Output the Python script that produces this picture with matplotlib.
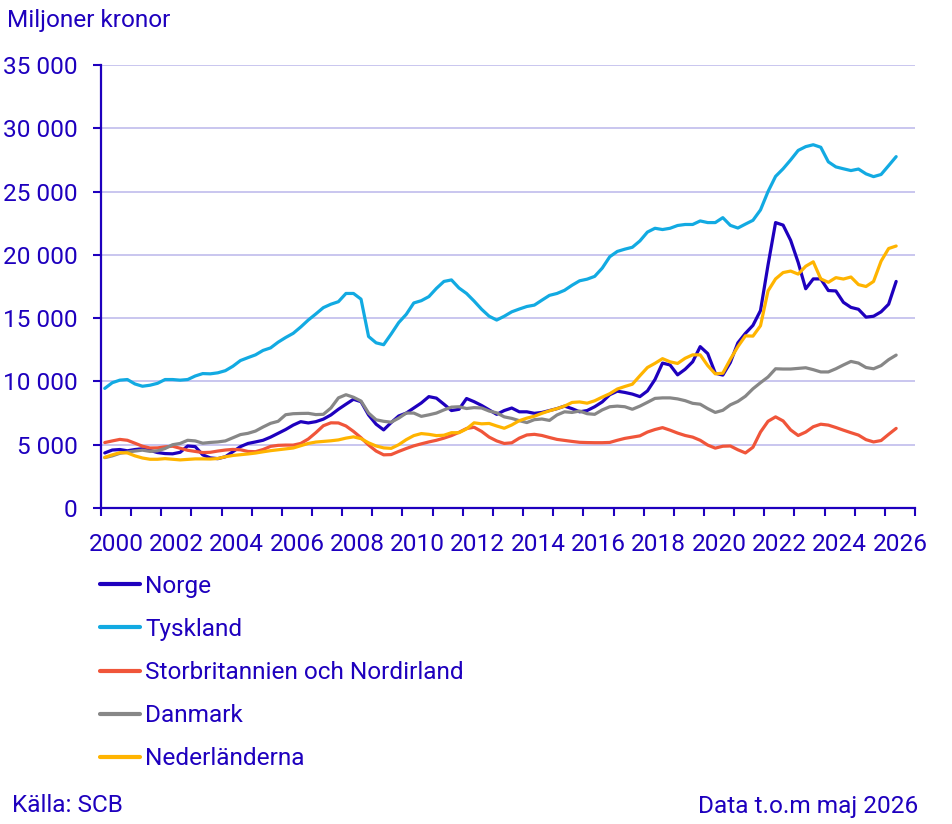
import numpy as np
import pandas as pd
import matplotlib
matplotlib.use("Agg")
import matplotlib.pyplot as plt
from matplotlib.ticker import FuncFormatter

plt.rcParams['font.family'] = ['Roboto', 'DejaVu Sans']

# ---- data (miljoner kronor), quarterly readings Feb/May/Aug/Nov, Feb 2000 - May 2026 ----
dates = pd.date_range('2000-02-01', '2026-05-01', freq='3MS')

norge = [
    4350, 4580, 4620, 4520,      # 2000
    4620, 4680, 4550, 4380,      # 2001
    4300, 4280, 4400, 4900,      # 2002
    4850, 4200, 3960, 3900,      # 2003
    4050, 4450, 4850, 5100,      # 2004
    5220, 5350, 5600, 5900,      # 2005
    6200, 6550, 6820, 6720,      # 2006
    6820, 7020, 7350, 7800,      # 2007
    8200, 8590, 8400, 7350,      # 2008
    6620, 6170, 6750, 7270,      # 2009
    7500, 7900, 8300, 8800,      # 2010
    8680, 8200, 7700, 7800,      # 2011
    8650, 8400, 8100, 7750,      # 2012
    7400, 7700, 7900, 7600,      # 2013
    7600, 7480, 7550, 7700,      # 2014
    7850, 8050, 7850, 7600,      # 2015
    7700, 8000, 8380, 8950,      # 2016
    9230, 9130, 9000, 8800,      # 2017
    9250, 10150, 11450, 11300,   # 2018
    10520, 10960, 11550, 12750,  # 2019
    12200, 10650, 10500, 11500,  # 2020
    13050, 13800, 14430, 15600,  # 2021
    19200, 22550, 22350, 21150,  # 2022
    19400, 17320, 18100, 18100,  # 2023
    17180, 17150, 16250, 15850,  # 2024
    15700, 15080, 15150, 15500,  # 2025
    16100, 17900,                # 2026
]

tyskland = [
    9450, 9900, 10100, 10150,    # 2000
    9800, 9620, 9700, 9850,      # 2001
    10150, 10150, 10100, 10150,  # 2002
    10430, 10620, 10600, 10680,  # 2003
    10850, 11200, 11650, 11880,  # 2004
    12100, 12450, 12650, 13100,  # 2005
    13470, 13800, 14300, 14850,  # 2006
    15330, 15830, 16100, 16300,  # 2007
    16950, 16950, 16500, 13550,  # 2008
    13050, 12900, 13750, 14650,  # 2009
    15300, 16200, 16380, 16700,  # 2010
    17350, 17900, 18020, 17380,  # 2011
    16950, 16350, 15700, 15150,  # 2012
    14850, 15150, 15500, 15720,  # 2013
    15920, 16030, 16420, 16800,  # 2014
    16950, 17200, 17600, 17950,  # 2015
    18080, 18300, 18950, 19850,  # 2016
    20270, 20450, 20600, 21100,  # 2017
    21800, 22100, 22000, 22100,  # 2018
    22320, 22400, 22400, 22680,  # 2019
    22550, 22550, 22940, 22330,  # 2020
    22120, 22430, 22730, 23550,  # 2021
    25000, 26200, 26800, 27500,  # 2022
    28250, 28550, 28700, 28500,  # 2023
    27350, 26950, 26800, 26660,  # 2024
    26780, 26400, 26180, 26350,  # 2025
    27050, 27760,                # 2026
]

storbritannien = [
    5170, 5300, 5420, 5350,      # 2000
    5120, 4880, 4740, 4750,      # 2001
    4830, 4880, 4720, 4560,      # 2002
    4470, 4380, 4400, 4500,      # 2003
    4580, 4630, 4600, 4470,      # 2004
    4450, 4620, 4870, 4950,      # 2005
    4970, 4970, 5100, 5450,      # 2006
    5950, 6500, 6730, 6720,      # 2007
    6480, 6050, 5550, 4980,      # 2008
    4500, 4200, 4220, 4470,      # 2009
    4700, 4910, 5070, 5220,      # 2010
    5350, 5520, 5720, 5980,      # 2011
    6280, 6380, 6050, 5600,      # 2012
    5300, 5100, 5150, 5520,      # 2013
    5770, 5820, 5730, 5570,      # 2014
    5420, 5340, 5260, 5190,      # 2015
    5170, 5160, 5160, 5180,      # 2016
    5350, 5500, 5600, 5700,      # 2017
    6000, 6200, 6350, 6150,      # 2018
    5920, 5730, 5600, 5350,      # 2019
    4970, 4730, 4880, 4900,      # 2020
    4600, 4350, 4800, 6000,      # 2021
    6850, 7200, 6880, 6170,      # 2022
    5730, 6000, 6420, 6620,      # 2023
    6550, 6360, 6150, 5950,      # 2024
    5760, 5400, 5220, 5330,      # 2025
    5820, 6290,                  # 2026
]

danmark = [
    3980, 4120, 4320, 4420,      # 2000
    4500, 4570, 4470, 4520,      # 2001
    4700, 5000, 5100, 5350,      # 2002
    5300, 5120, 5180, 5220,      # 2003
    5300, 5550, 5800, 5900,      # 2004
    6080, 6400, 6690, 6850,      # 2005
    7370, 7450, 7470, 7480,      # 2006
    7380, 7400, 7900, 8700,      # 2007
    8950, 8750, 8450, 7500,      # 2008
    6970, 6850, 6780, 7100,      # 2009
    7500, 7500, 7240, 7360,      # 2010
    7500, 7750, 7970, 8000,      # 2011
    7860, 7930, 7900, 7660,      # 2012
    7520, 7200, 7080, 6900,      # 2013
    6750, 6980, 7030, 6920,      # 2014
    7350, 7600, 7550, 7660,      # 2015
    7450, 7400, 7750, 8000,      # 2016
    8050, 8000, 7800, 8050,      # 2017
    8350, 8660, 8700, 8700,      # 2018
    8620, 8480, 8270, 8200,      # 2019
    7850, 7550, 7720, 8150,      # 2020
    8420, 8830, 9420, 9900,      # 2021
    10350, 11000, 10980, 10980,  # 2022
    11030, 11080, 10930, 10750,  # 2023
    10750, 11000, 11300, 11580,  # 2024
    11450, 11100, 11000, 11250,  # 2025
    11720, 12080,                # 2026
]

nederlanderna = [
    4000, 4200, 4370, 4350,      # 2000
    4120, 3950, 3850, 3850,      # 2001
    3900, 3850, 3800, 3840,      # 2002
    3880, 3880, 3870, 3910,      # 2003
    4050, 4150, 4210, 4270,      # 2004
    4340, 4440, 4530, 4600,      # 2005
    4670, 4740, 4920, 5100,      # 2006
    5210, 5260, 5310, 5380,      # 2007
    5520, 5620, 5480, 5150,      # 2008
    4900, 4750, 4710, 5000,      # 2009
    5400, 5720, 5880, 5820,      # 2010
    5720, 5750, 5950, 5950,      # 2011
    6250, 6730, 6650, 6680,      # 2012
    6480, 6300, 6560, 6900,      # 2013
    7100, 7250, 7480, 7680,      # 2014
    7850, 8050, 8340, 8380,      # 2015
    8280, 8470, 8760, 9030,      # 2016
    9400, 9600, 9780, 10450,     # 2017
    11100, 11430, 11800, 11550,  # 2018
    11420, 11830, 12100, 12100,  # 2019
    11250, 10600, 10650, 11750,  # 2020
    12750, 13600, 13580, 14400,  # 2021
    17150, 18100, 18600, 18720,  # 2022
    18480, 19100, 19450, 18100,  # 2023
    17830, 18200, 18090, 18250,  # 2024
    17650, 17500, 17900, 19500,  # 2025
    20500, 20700,                # 2026
]

series_names = ['Norge', 'Tyskland', 'Storbritannien och Nordirland', 'Danmark', 'Nederländerna']
series_values = [norge, tyskland, storbritannien, danmark, nederlanderna]
series_colors = ['#1e00be', '#12aae2', '#f0553a', '#878787', '#ffb400']

year_ticks = list(range(2000, 2028))
label_years = list(range(2000, 2027, 2))
y_ticks = list(range(0, 35001, 5000))

TEXT = '#1e00be'
GRID = '#c9c6ef'
FS = 17.6

# ---- figure ----
W, H = 953, 824
fig = plt.figure(figsize=(W / 100, H / 100), dpi=100)
ax = fig.add_axes([101 / W, 1 - 508 / H, 814 / W, 443 / H])

x = dates.year + (dates.month - 0.5) / 12.0

for name, vals, col in zip(series_names, series_values, series_colors):
    ax.plot(x, vals, color=col, lw=2.3, label=name, solid_capstyle='round', zorder=3)

ax.set_xlim(2000, 2027)
ax.set_ylim(0, 35000)

ax.set_yticks(y_ticks)
ax.yaxis.set_major_formatter(FuncFormatter(lambda v, p: f"{int(v):,}".replace(",", " ")))
ax.grid(axis='y', color=GRID, lw=1.4, zorder=0)
ax.set_axisbelow(True)

ax.set_xticks(year_ticks)
ax.set_xticklabels([])
ax.set_xticks([y + 0.5 for y in label_years], minor=True)
ax.set_xticklabels([str(y) for y in label_years], minor=True)

for s in ['top', 'right']:
    ax.spines[s].set_visible(False)
for s in ['left', 'bottom']:
    ax.spines[s].set_color(TEXT)
    ax.spines[s].set_linewidth(1.6)

ax.tick_params(axis='y', which='major', length=6, width=1.5, color=TEXT,
               labelcolor=TEXT, labelsize=FS, pad=11)
ax.tick_params(axis='x', which='major', length=6, width=1.5, color=TEXT)
ax.tick_params(axis='x', which='minor', length=0, labelcolor=TEXT,
               labelsize=FS, pad=18)

leg = fig.legend(loc='upper left', bbox_to_anchor=(100 / W, 1 - 575 / H),
                 frameon=False, fontsize=FS, handlelength=1.64,
                 handletextpad=0.2, labelspacing=0.82, borderpad=0,
                 borderaxespad=0)
for t in leg.get_texts():
    t.set_color(TEXT)
for l in leg.get_lines():
    l.set_linewidth(3)

fig.text(7 / W, 1 - 21 / H, 'Miljoner kronor', color=TEXT, fontsize=FS,
         ha='left', va='center')
fig.text(12 / W, 1 - 806 / H, 'Källa: SCB', color=TEXT, fontsize=FS,
         ha='left', va='center')
fig.text(918 / W, 1 - 806 / H, 'Data t.o.m maj 2026', color=TEXT, fontsize=FS,
         ha='right', va='center')

fig.savefig('out.png', dpi=100)
